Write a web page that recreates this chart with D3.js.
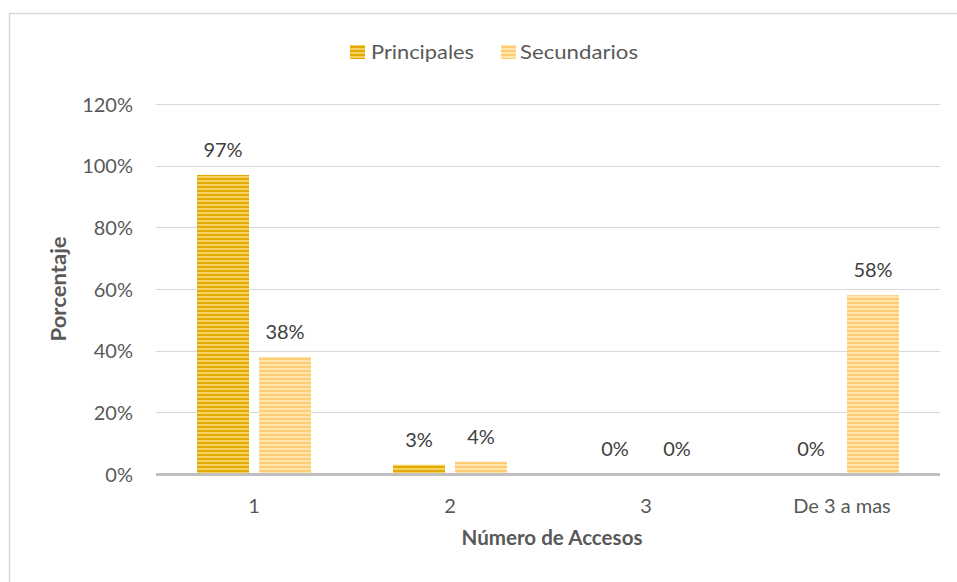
<!DOCTYPE html>
<html>
<head>
<meta charset="utf-8">
<script src="https://cdn.jsdelivr.net/npm/d3@7"></script>
<style>
  html, body { margin: 0; padding: 0; background: #ffffff; }
  svg { display: block; font-family: Lato, "Liberation Sans", sans-serif; }
</style>
</head>
<body>
<svg id="chart" width="957" height="582"></svg>
<script>
const categories = ["1", "2", "3", "De 3 a mas"];
const seriesNames = ["Principales", "Secundarios"];
const principales = [97, 3, 0, 0];
const secundarios = [38, 4, 0, 58];
const yTicks = [0, 20, 40, 60, 80, 100, 120];
const xTitle = "Número de Accesos";
const yTitle = "Porcentaje";

const svg = d3.select("#chart");
const W = 957, H = 582;
const plot = { left: 156, right: 940, top: 104, bottom: 474 };

// frame
svg.append("rect").attr("x", 9.5).attr("y", 13.5).attr("width", 960).attr("height", 600)
  .attr("fill", "#fff").attr("stroke", "#d9d9d9").attr("stroke-width", 1.5);

// patterns
const defs = svg.append("defs");
function stripe(id, light, dark) {
  const p = defs.append("pattern").attr("id", id).attr("patternUnits", "userSpaceOnUse")
    .attr("width", 8).attr("height", 4).attr("y", plot.bottom);
  p.append("rect").attr("width", 8).attr("height", 4).attr("fill", light);
  p.append("rect").attr("y", 0).attr("width", 8).attr("height", 2).attr("fill", dark);
}
stripe("patP", "#f4d160", "#e2a900");
stripe("patS", "#ffe5b0", "#ffcd73");
const fills = ["url(#patP)", "url(#patS)"];
const edge = ["#e8b41a", "#ffd68a"];

const x = d3.scaleBand().domain(categories).range([plot.left, plot.right]).paddingInner(0).paddingOuter(0);
const y = d3.scaleLinear().domain([0, 120]).range([plot.bottom, plot.top]);
const barW = 52, gap = 10;
const xs = d3.scaleBand().domain(seriesNames).range([0, barW * 2 + gap]).paddingInner(gap / (barW * 2 + gap) * 2 / 1);

// gridlines
svg.append("g").selectAll("line").data(yTicks.filter(d => d > 0)).join("line")
  .attr("x1", plot.left).attr("x2", plot.right)
  .attr("y1", d => Math.round(y(d)) + 0.5).attr("y2", d => Math.round(y(d)) + 0.5)
  .attr("stroke", "#d9d9d9").attr("stroke-width", 1);

// y axis labels
const yAxis = d3.axisLeft(y).tickValues(yTicks).tickFormat(d => d + "%").tickSize(0).tickPadding(0);
const gy = svg.append("g").attr("transform", `translate(133,0)`).call(yAxis);
gy.select(".domain").remove();
gy.selectAll("text").attr("fill", "#595959").style("font-size", "20px").attr("dy", "0.36em")
  .style("font-family", "Lato, sans-serif");

// bars
const data = categories.map((c, i) => ({ cat: c, vals: [principales[i], secundarios[i]] }));
const groupW = barW * 2 + gap;
const groups = svg.append("g").selectAll("g").data(data).join("g")
  .attr("transform", d => `translate(${x(d.cat) + (x.bandwidth() - groupW) / 2},0)`);
groups.selectAll("rect").data(d => d.vals.map((v, k) => ({ v, k })).filter(e => e.v > 0)).join("rect")
  .attr("x", e => e.k * (barW + gap))
  .attr("y", e => y(e.v))
  .attr("width", barW)
  .attr("height", e => y(0) - y(e.v))
  .attr("fill", e => fills[e.k]);

// data labels
groups.selectAll("text").data(d => d.vals.map((v, k) => ({ v, k }))).join("text")
  .attr("x", e => e.k * (barW + gap) + barW / 2)
  .attr("y", e => y(e.v) - 18)
  .attr("text-anchor", "middle")
  .attr("fill", "#404040").style("font-size", "20px")
  .text(e => e.v + "%");

// baseline
svg.append("line").attr("x1", plot.left).attr("x2", plot.right)
  .attr("y1", y(0) + 0.5).attr("y2", y(0) + 0.5)
  .attr("stroke", "#bfbfbf").attr("stroke-width", 3);

// x axis labels
const xAxis = d3.axisBottom(x).tickSize(0).tickPadding(0);
const gx = svg.append("g").attr("transform", `translate(0,${plot.bottom})`).call(xAxis);
gx.select(".domain").remove();
gx.selectAll("text").attr("fill", "#595959").style("font-size", "20px")
  .style("font-family", "Lato, sans-serif").attr("y", 39).attr("dy", 0);

// axis titles
svg.append("text").attr("x", 552).attr("y", 545).attr("text-anchor", "middle")
  .attr("fill", "#595959").style("font-size", "20px").style("font-weight", "bold")
  .attr("textLength", 181).attr("lengthAdjust", "spacingAndGlyphs")
  .text(xTitle);
svg.append("text").attr("transform", "translate(66,289) rotate(-90)").attr("text-anchor", "middle")
  .attr("fill", "#595959").style("font-size", "20px").style("font-weight", "bold")
  .attr("textLength", 105).attr("lengthAdjust", "spacingAndGlyphs")
  .text(yTitle);

// legend
const legendItems = [
  { name: seriesNames[0], sx: 350, tx: 371, tw: 103 },
  { name: seriesNames[1], sx: 501, tx: 520, tw: 118 }
];
const lg = svg.append("g");
legendItems.forEach((it, k) => {
  lg.append("rect").attr("x", it.sx).attr("y", 45).attr("width", 15).attr("height", 14)
    .attr("fill", fills[k]);
  lg.append("text").attr("x", it.tx).attr("y", 59).attr("fill", "#595959")
    .style("font-size", "20px").attr("textLength", it.tw).attr("lengthAdjust", "spacingAndGlyphs")
    .text(it.name);
});
</script>
</body>
</html>
